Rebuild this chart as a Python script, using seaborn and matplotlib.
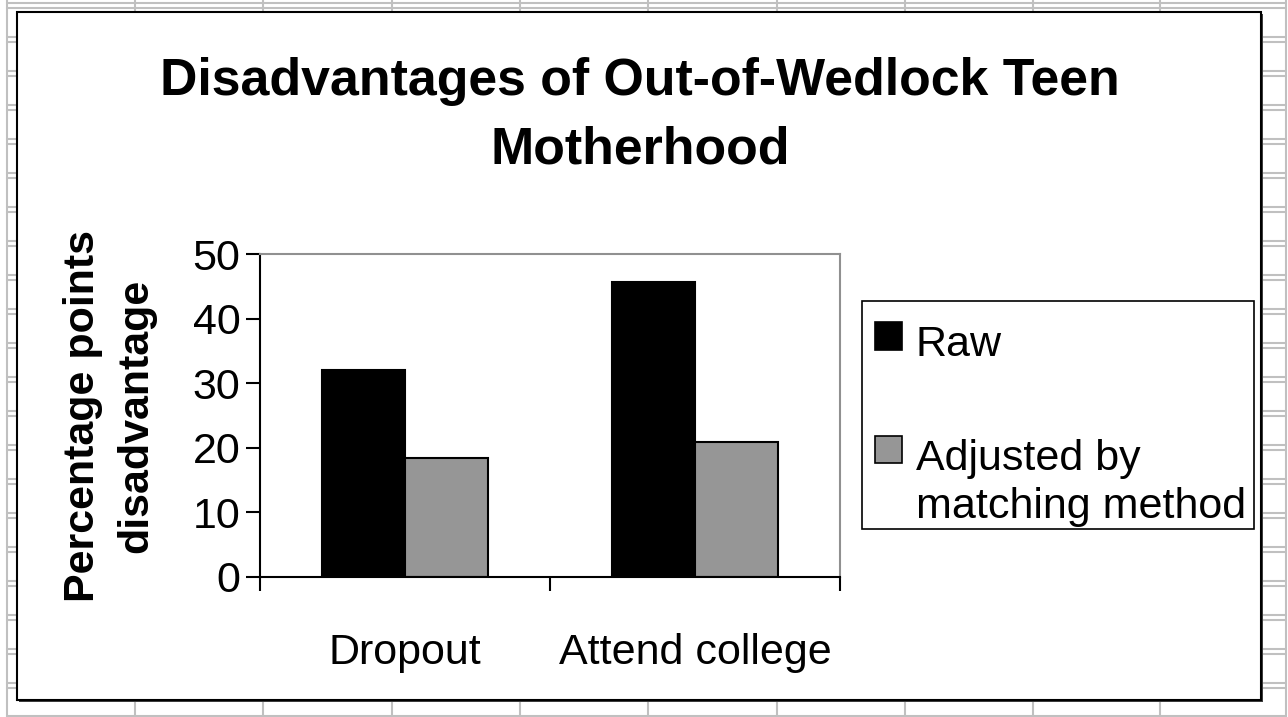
import pandas as pd
import seaborn as sns
import matplotlib.pyplot as plt
from matplotlib.patches import Rectangle
from matplotlib.lines import Line2D

# data
categories = ["Dropout", "Attend college"]
series = ["Raw", "Adjusted by\nmatching method"]
raw_values = [32.0, 45.6]
adjusted_values = [18.4, 20.9]
y_ticks = [0, 10, 20, 30, 40, 50]

W, H = 1288, 717


def fx(x):
    return x / W


def fy(y):
    # pixel row from the top -> figure fraction
    return 1 - y / H


df = pd.DataFrame({
    "Category": categories * 2,
    "Series": [series[0]] * 2 + [series[1]] * 2,
    "Value": raw_values + adjusted_values,
})

sns.set_theme(style="white")
plt.rcParams["font.family"] = ["Liberation Sans", "DejaVu Sans"]
plt.rcParams["text.color"] = "black"
plt.rcParams["axes.labelcolor"] = "black"
plt.rcParams["xtick.color"] = "black"
plt.rcParams["ytick.color"] = "black"

fig = plt.figure(figsize=(W / 100, H / 100), dpi=100)
fig.patch.set_facecolor("white")

# spreadsheet grid behind the chart
grid_c = "#c0c0c0"
for x in [7, 135, 263, 392, 520, 648, 777, 905, 1033, 1160, 1286]:
    fig.add_artist(Line2D([fx(x), fx(x)], [0, 1], color=grid_c, lw=1.5, zorder=-5))
for k in range(21):
    y = 3 + 34 * k
    for yy in (y, y + 5):
        fig.add_artist(Line2D([fx(7), fx(1286)], [fy(yy), fy(yy)], color=grid_c, lw=1.5, zorder=-5))
fig.add_artist(Line2D([fx(7), fx(1286)], [fy(716), fy(716)], color=grid_c, lw=1.5, zorder=-5))

# chart frame with shadow
fig.add_artist(Rectangle((fx(19), fy(702)), fx(1244), 688 / H, facecolor="#404040",
                         edgecolor="none", zorder=-3))
fig.add_artist(Rectangle((fx(17), fy(700)), fx(1244), 688 / H, facecolor="white",
                         edgecolor="black", lw=1.5, zorder=-2))

ax = fig.add_axes([fx(260), fy(577), fx(580), 323 / H])
ax.set_facecolor("white")

sns.barplot(data=df, x="Category", y="Value", hue="Series", ax=ax,
            palette=["black", "#969696"], width=0.57, edgecolor="black",
            linewidth=1.5, legend=False)

ax.set_ylim(0, 50)
ax.set_xlim(-0.5, 1.5)
ax.set_yticks(y_ticks)
ax.set_xticks([0, 1])
ax.set_xticklabels(categories)
ax.set_xticks([-0.5, 0.5, 1.5], minor=True)
ax.tick_params(axis="y", direction="out", length=10, width=1.5, color="black",
               labelsize=31, pad=4, left=True)
ax.tick_params(axis="x", which="major", length=0, labelsize=31, pad=40)
ax.tick_params(axis="x", which="minor", direction="out", length=10, width=1.5,
               color="black", bottom=True)
ax.set_xlabel("")
ax.set_ylabel("Percentage points\ndisadvantage", fontsize=31, fontweight="bold",
              labelpad=26, linespacing=1.44)

for side in ["left", "bottom"]:
    ax.spines[side].set_color("black")
    ax.spines[side].set_linewidth(1.5)
for side in ["top", "right"]:
    ax.spines[side].set_color("#909090")
    ax.spines[side].set_linewidth(1.5)

fig.text(fx(640), fy(95), "Disadvantages of Out-of-Wedlock Teen",
         ha="center", va="baseline", fontsize=37.4, fontweight="bold")
fig.text(fx(640), fy(163), "Motherhood",
         ha="center", va="baseline", fontsize=37.4, fontweight="bold")

# legend box
fig.add_artist(Rectangle((fx(862), fy(529)), fx(392), 228 / H, facecolor="white",
                         edgecolor="black", lw=1.2, zorder=1))
fig.add_artist(Rectangle((fx(875), fy(350)), fx(27), 28 / H, facecolor="black",
                         edgecolor="black", lw=1.2, zorder=2))
fig.add_artist(Rectangle((fx(875), fy(463)), fx(27), 27 / H, facecolor="#969696",
                         edgecolor="black", lw=1.2, zorder=2))
fig.text(fx(916), fy(356), series[0], ha="left", va="baseline", fontsize=31)
fig.text(fx(916), fy(470), "Adjusted by", ha="left", va="baseline", fontsize=31)
fig.text(fx(916), fy(518), "matching method", ha="left", va="baseline", fontsize=31)

fig.savefig("out.png", dpi=100)
